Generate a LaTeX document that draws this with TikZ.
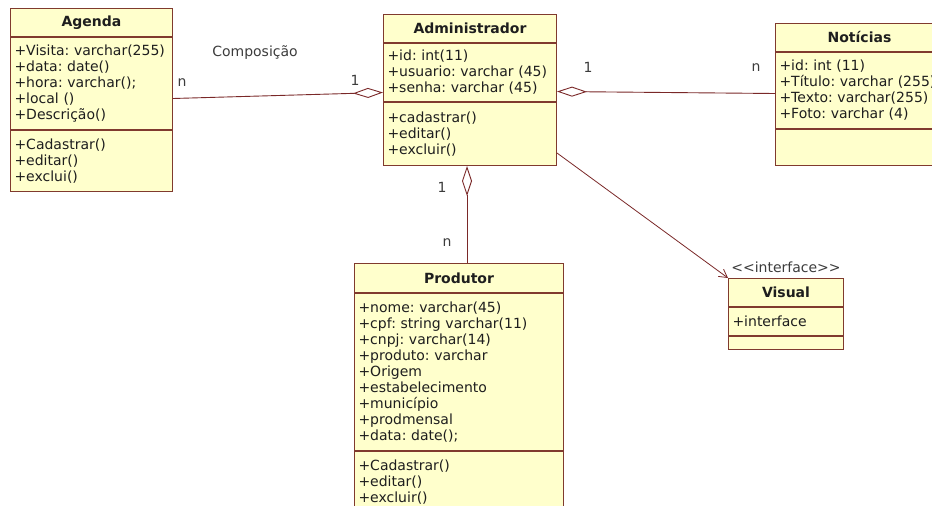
\documentclass[tikz,border=0pt]{standalone}
\usepackage{fontspec}
\setmainfont{DejaVu Sans}
\usetikzlibrary{positioning,arrows.meta}
\definecolor{umlfill}{RGB}{255,255,204}
\definecolor{umlline}{RGB}{128,58,46}
\definecolor{linkline}{RGB}{122,40,40}
\definecolor{umltext}{RGB}{30,30,30}
\definecolor{multext}{RGB}{60,60,60}
\frenchspacing
\tikzset{
	umlpart/.style={draw=umlline, fill=umlfill, line width=1pt, inner xsep=4pt, inner ysep=0pt, text width=#1, align=left, anchor=north west, text=umltext},
	umltitle/.style={umlpart=#1, align=center, font=\fontsize{14pt}{16pt}\selectfont\bfseries},
	compo/.style={draw=linkline, line width=0.9pt, {Diamond[open,length=30pt,width=10pt]}-},
	depend/.style={draw=linkline, line width=0.8pt, -{Straight Barb[length=8pt,width=9pt]}},
	mult/.style={text=multext, inner sep=1pt},
}
\begin{document}
\begin{tikzpicture}[x=1pt, y=-1pt, font=\fontsize{14pt}{16pt}\selectfont]
	\useasboundingbox (0,0) rectangle (932,506);
	\clip (0,0) rectangle (932,506);
	% Agenda
	\node[umltitle=154pt, minimum height=28pt] (agtitle) at (10,8) {Agenda};
	\node[umlpart=154pt, minimum height=92pt, below=0pt of agtitle] (agattr) {+Visita: varchar(255)\\+data: date()\\+hora: varchar();\\+local ()\\+Descrição()};
	\node[umlpart=154pt, minimum height=61pt, below=0pt of agattr] (agmeth) {+Cadastrar()\\+editar()\\+exclui()};
	% Administrador
	\node[umltitle=165pt, minimum height=28pt] (adtitle) at (383,14) {Administrador};
	\node[umlpart=165pt, minimum height=58pt, below=0pt of adtitle] (adattr) {+id: int(11)\\+usuario: varchar (45)\\+senha: varchar (45)};
	\node[umlpart=165pt, minimum height=63pt, below=0pt of adattr] (admeth) {+cadastrar()\\+editar()\\+excluir()};
	% Noticias
	\node[umltitle=160pt, minimum height=28pt] (nottitle) at (775,23) {Notícias};
	\node[umlpart=160pt, minimum height=76pt, below=0pt of nottitle] (notattr) {+id: int (11)\\+Título: varchar (255)\\+Texto: varchar(255)\\+Foto: varchar (4)};
	\node[umlpart=160pt, minimum height=36pt, below=0pt of notattr] (notmeth) {};
	% Produtor
	\node[umltitle=201pt, minimum height=29pt] (prodtitle) at (354,263) {Produtor};
	\node[umlpart=201pt, minimum height=157pt, below=0pt of prodtitle] (prodattr) {+nome: varchar(45)\\+cpf: string varchar(11)\\+cnpj: varchar(14)\\+produto: varchar\\+Origem\\+estabelecimento\\+município\\+prodmensal\\+data: date();};
	\node[umlpart=201pt, minimum height=62pt, below=0pt of prodattr] (prodmeth) {+Cadastrar()\\+editar()\\+excluir()};
	% Visual
	\node[umltitle=107pt, minimum height=28pt] (vistitle) at (728,278) {Visual};
	\node[umlpart=107pt, minimum height=28pt, below=0pt of vistitle] (visattr) {+interface};
	\node[umlpart=107pt, minimum height=13pt, below=0pt of visattr] (vismeth) {};
	\node[mult, above=4pt of vistitle] (visstereo) {<\kern0pt<interface>\kern0pt>};
	% ligacoes
	\draw[compo] ([yshift=-20pt]adattr.west) -- ([yshift=-15pt]agattr.east);
	\draw[compo] ([yshift=-19pt]adattr.east) -- ([yshift=-3pt]notattr.west);
	\draw[compo] ([xshift=-3pt]admeth.south) -- ([xshift=-3pt]admeth.south |- prodtitle.north);
	\draw[depend] ([yshift=-19pt]admeth.east) -- (vistitle.north west);
	% multiplicidades
	\node[mult] (lbcompo) at (255,53) {Composição};
	\node[mult] (lbagn) at (182,83) {n};
	\node[mult] (lbadag) at (355,80) {1};
	\node[mult] (lbadnot) at (588,67) {1};
	\node[mult] (lbnotn) at (756,68) {n};
	\node[mult] (lbadprod) at (442,187) {1};
	\node[mult] (lbprodn) at (447,243) {n};
\end{tikzpicture}
\end{document}
